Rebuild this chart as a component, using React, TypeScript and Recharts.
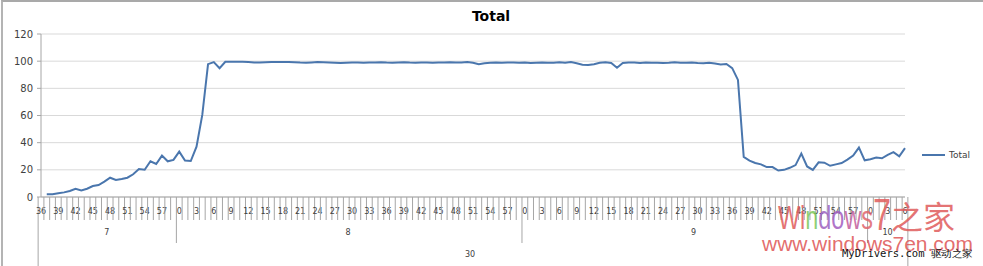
import { CartesianGrid, Line, LineChart, XAxis, YAxis } from "recharts";

// one block per hour of the 30th; minutes run from 7:36 to 10:06
const hourBlocks = [
  { hour: 7, firstMinute: 36 },
  { hour: 8, firstMinute: 0 },
  { hour: 9, firstMinute: 0 },
  { hour: 10, firstMinute: 0 },
];
const dayLabel = "30";

const total7 = [
  null, 2.0, 2.0, 2.7, 3.4, 4.4, 6.1, 4.9, 6.1, 8.1, 8.8, 11.3, 14.2, 12.5,
  13.3, 14.2, 16.7, 20.6, 20.1, 26.3, 24.3, 30.5, 26.3, 27.3,
];
const total8 = [
  33.4, 26.8, 26.5, 37.1, 60.4, 97.8, 99.3, 94.8, 99.5, 99.6, 99.5, 99.6,
  99.4, 99.1, 99.0, 99.2, 99.3, 99.4, 99.3, 99.4, 99.2, 99.0, 98.9, 99.1,
  99.3, 99.2, 99.0, 98.8, 98.6, 98.9, 99.1, 99.0, 98.9, 99.0, 99.1, 99.2,
  99.0, 98.9, 99.1, 99.2, 99.0, 98.9, 99.1, 99.0, 98.8, 99.0, 99.1, 99.2,
  99.0, 99.1, 99.3, 98.9, 97.8, 98.4, 98.8, 99.0, 98.9, 99.1, 99.0, 98.8,
];
const total9 = [
  99.0, 98.7, 98.9, 99.1, 98.8, 98.9, 99.2, 98.9, 99.3, 98.5, 97.4, 97.2,
  97.8, 98.8, 99.2, 98.6, 95.2, 98.6, 99.1, 99.0, 98.7, 99.1, 98.8, 98.9,
  98.6, 98.8, 99.2, 98.9, 98.8, 99.0, 98.7, 98.5, 98.8, 98.3, 97.6, 97.9,
  94.9, 86.2, 29.5, 26.8, 25.0, 24.0, 22.0, 22.0, 19.5, 20.0, 21.5, 23.5,
  32.0, 22.5, 20.0, 25.5, 25.3, 23.0, 24.0, 25.0, 27.5, 30.5, 36.4, 27.0,
];
const total10 = [27.8, 29.0, 28.5, 31.0, 33.0, 30.0, 36.0];

const series = [total7, total8, total9, total10];
const yTicks = [0, 20, 40, 60, 80, 100, 120];

const data = hourBlocks.flatMap((block, bi) =>
  series[bi].map((value, i) => ({
    key: `${block.hour}:${block.firstMinute + i}`,
    hour: block.hour,
    minute: block.firstMinute + i,
    first: i === 0,
    blockSize: series[bi].length,
    total: value,
  }))
);

const W = 983;
const H = 266;
const PLOT_LEFT = 41;
const PLOT_RIGHT = 905;
const PLOT_TOP = 34;
const PLOT_BOTTOM = 197;
const PLOT_W = PLOT_RIGHT - PLOT_LEFT;

const font = "'DejaVu Sans', sans-serif";
const textColor = "#404040";
const axisColor = "#a6a6a6";
const lineColor = "#4a76ad";

function CategoryTick(props: any) {
  const index = props.index ?? props.payload?.index ?? 0;
  const d = data[index];
  if (!d) return null;
  const band = PLOT_W / data.length;
  const x = props.x;
  const left = x - band / 2;
  const isLast = index === data.length - 1;
  return (
    <g>
      <line
        x1={left}
        x2={left}
        y1={PLOT_BOTTOM}
        y2={index === 0 ? H : d.first ? 243 : 220}
        stroke={axisColor}
      />
      {isLast && (
        <line x1={x + band / 2} x2={x + band / 2} y1={PLOT_BOTTOM} y2={H} stroke={axisColor} />
      )}
      {d.minute % 3 === 0 && (
        <text x={x} y={214} textAnchor="middle" fontSize={8} fill={textColor} fontFamily={font}>
          {d.minute}
        </text>
      )}
      {d.first && (
        <text
          x={left + (d.blockSize * band) / 2}
          y={235}
          textAnchor="middle"
          fontSize={8}
          fill={textColor}
          fontFamily={font}
        >
          {d.hour}
        </text>
      )}
      {index === 0 && (
        <text
          x={left + (data.length * band) / 2}
          y={257}
          textAnchor="middle"
          fontSize={8}
          fill={textColor}
          fontFamily={font}
        >
          {dayLabel}
        </text>
      )}
    </g>
  );
}

function Watermark() {
  const letters = [
    { ch: "W", color: "#e05b5b" },
    { ch: "i", color: "#e05b5b" },
    { ch: "n", color: "#7cc85a" },
    { ch: "d", color: "#9c5fc0" },
    { ch: "o", color: "#a25cc0" },
    { ch: "w", color: "#c25c9c" },
    { ch: "s", color: "#e0646c" },
  ];
  return (
    <svg width={W} height={H} style={{ position: "absolute", left: 0, top: 0, pointerEvents: "none" }}>
      <text x={778} y={229} fontSize={34} fontFamily="'Liberation Sans', sans-serif" textLength={95} lengthAdjust="spacingAndGlyphs">
        {letters.map((l, i) => (
          <tspan key={i} fill={l.color} fillOpacity={0.85}>
            {l.ch}
          </tspan>
        ))}
      </text>
      <text x={873} y={230} fontSize={44} fill="#e05b5b" fillOpacity={0.85} fontFamily="'Liberation Sans', sans-serif" textLength={18} lengthAdjust="spacingAndGlyphs">
        7
      </text>
      <text x={891} y={229} fontSize={32} fill="#e05b5b" fillOpacity={0.85} fontFamily="'Noto Sans CJK SC', sans-serif" textLength={64} lengthAdjust="spacingAndGlyphs">
        之家
      </text>
      <text x={762} y={251} fontSize={20} fill="#e05b5b" fillOpacity={0.9} fontFamily="'Liberation Sans', sans-serif" textLength={211} lengthAdjust="spacingAndGlyphs">
        www.windows7en.com
      </text>
      <text x={842} y={257} fontSize={10} fill="#111" fontFamily="'DejaVu Sans Mono', monospace" textLength={131} lengthAdjust="spacingAndGlyphs">
        MyDrivers.com 驱动之家
      </text>
    </svg>
  );
}

export default function App() {
  return (
    <div style={{ position: "relative", width: W, height: H, background: "#fff", overflow: "hidden" }}>
      <style>{`body{margin:0}`}</style>
      <div
        style={{
          position: "absolute",
          left: 1,
          top: 0,
          width: W + 10,
          height: H + 10,
          borderTop: "2px solid #a9a9a9",
          borderLeft: "2px solid #b4b4b4",
          boxSizing: "border-box",
        }}
      />
      <div
        style={{
          position: "absolute",
          left: 0,
          top: 7,
          width: 982,
          textAlign: "center",
          fontFamily: font,
          fontWeight: "bold",
          fontSize: 14,
          lineHeight: "18px",
          color: "#000",
        }}
      >
        Total
      </div>
      <div style={{ position: "absolute", left: 0, top: 0 }}>
        <LineChart
          width={W}
          height={H}
          data={data}
          margin={{ top: PLOT_TOP, right: W - PLOT_RIGHT, bottom: 0, left: 0 }}
        >
          <CartesianGrid stroke="#d9d9d9" vertical={false} />
          <XAxis
            dataKey="key"
            interval={0}
            height={H - PLOT_BOTTOM}
            tickLine={false}
            axisLine={{ stroke: axisColor }}
            tick={(p: any) => <CategoryTick {...p} />}
          />
          <YAxis
            domain={[0, 120]}
            ticks={yTicks}
            width={PLOT_LEFT}
            tickSize={4}
            tickMargin={4}
            tickLine={{ stroke: axisColor }}
            axisLine={{ stroke: axisColor }}
            tick={{ fontSize: 10, fill: textColor, fontFamily: font }}
          />
          <Line
            type="linear"
            dataKey="total"
            stroke={lineColor}
            strokeWidth={2}
            dot={false}
            isAnimationActive={false}
          />
        </LineChart>
      </div>
      <div style={{ position: "absolute", left: 922, top: 150, display: "flex", alignItems: "center" }}>
        <div style={{ width: 23, height: 2, background: lineColor, marginRight: 4 }} />
        <span style={{ fontFamily: font, fontSize: 9, color: textColor }}>Total</span>
      </div>
      <Watermark />
    </div>
  );
}
